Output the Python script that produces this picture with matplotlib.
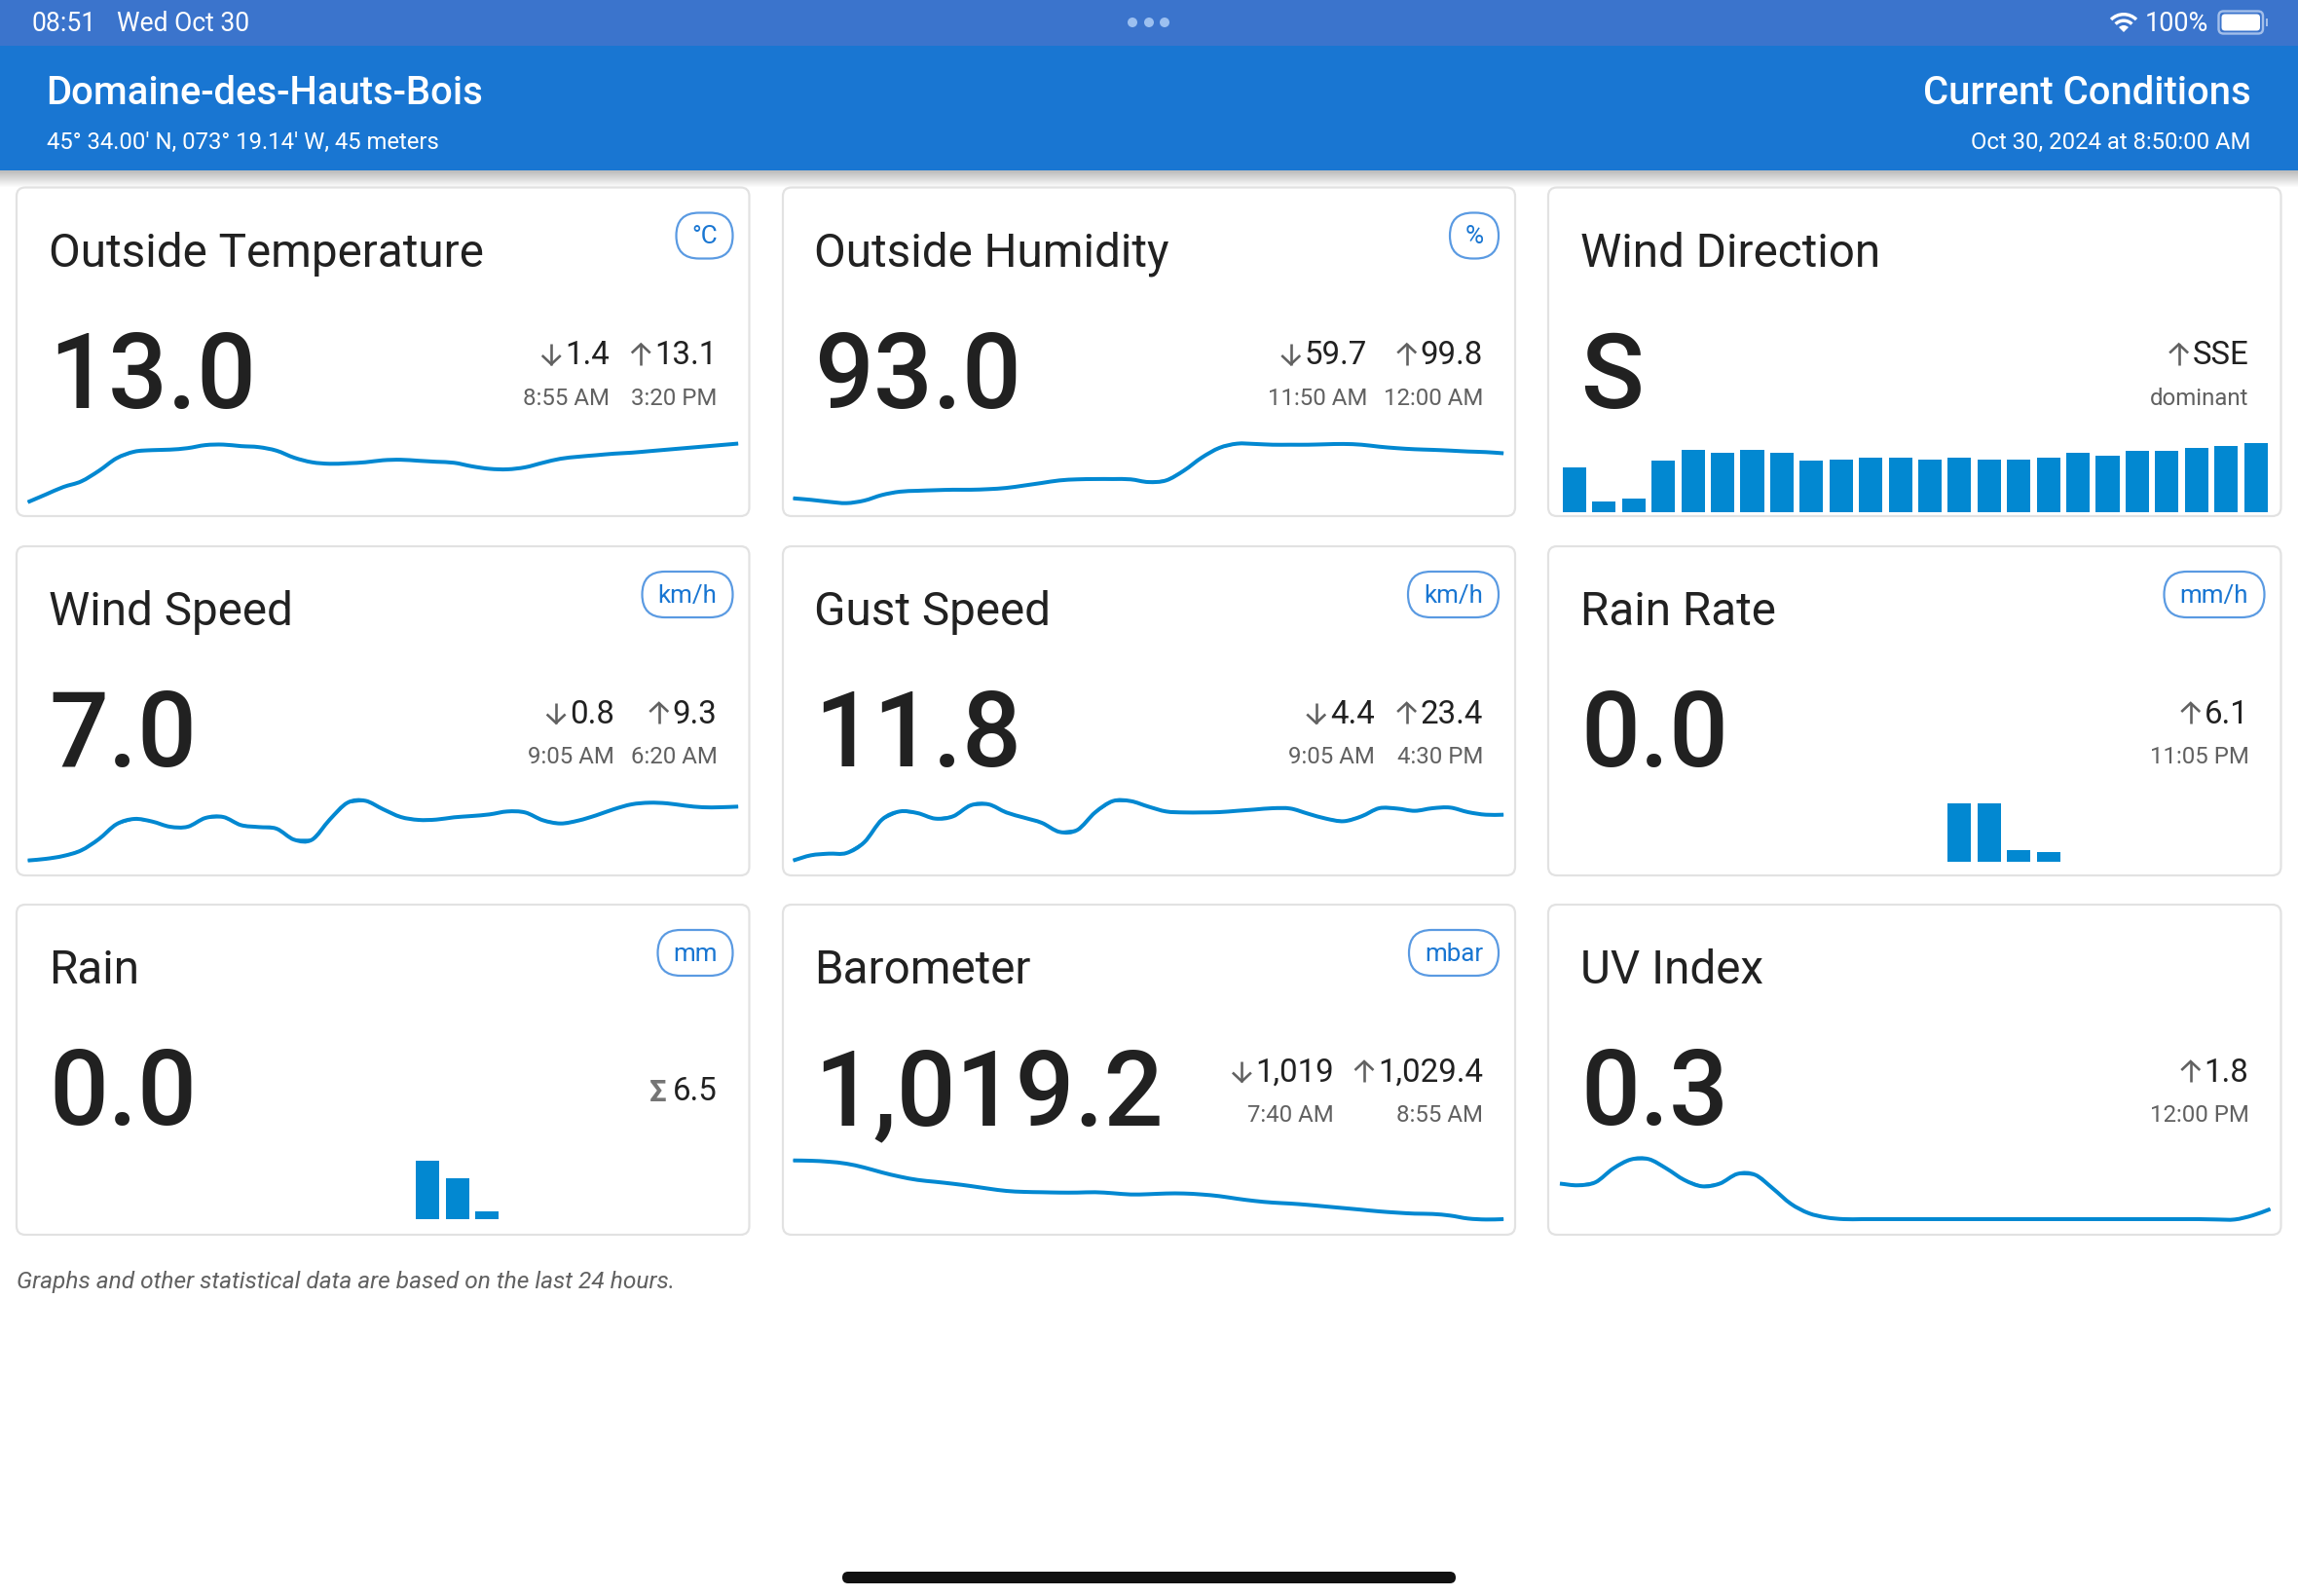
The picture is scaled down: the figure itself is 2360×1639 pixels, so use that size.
import numpy as np
import matplotlib
matplotlib.use("Agg")
import matplotlib.pyplot as plt
from matplotlib.patches import FancyBboxPatch, Rectangle, Circle, Wedge, PathPatch
from matplotlib.path import Path

plt.rcParams['font.family'] = ['Roboto', 'DejaVu Sans']

# ---------- data ----------
temperature = [1.4, 2.9, 4.4, 5.5, 7.6, 10.1, 11.4, 11.7, 11.8, 12.1, 12.7, 12.8, 12.5, 12.3, 11.6, 10.2, 9.3, 9.0, 9.1, 9.3, 9.7,
               9.8, 9.6, 9.4, 9.2, 8.5, 8.0, 7.9, 8.3, 9.2, 10.0, 10.4, 10.7, 11.0, 11.2, 11.5, 11.8, 12.1, 12.4, 12.7, 13.0]
humidity = [63.1, 62.1, 60.8, 59.9, 61.6, 65.3, 67.5, 68.1, 68.5, 68.8, 68.8, 69.2, 70.0, 71.6, 73.3, 75.0, 75.7, 75.9, 75.9, 75.7, 73.9,
            75.0, 81.5, 90.1, 96.6, 99.4, 99.2, 98.7, 98.7, 98.7, 99.0, 99.2, 98.7, 97.4, 96.4, 95.7, 95.3, 94.8, 94.2, 93.8, 93.0]
wind_speed = [2.02, 2.17, 2.44, 2.95, 4.0, 5.38, 5.86, 5.62, 5.14, 5.14, 5.95, 6.04, 5.29, 5.11, 4.96, 3.94, 3.94, 5.8, 7.36, 7.54, 6.76,
              6.04, 5.77, 5.8, 6.01, 6.13, 6.28, 6.55, 6.46, 5.74, 5.44, 5.71, 6.19, 6.76, 7.21, 7.36, 7.3, 7.09, 6.94, 6.94, 7.0]
gust_speed = [1.93, 3.05, 3.4, 3.54, 5.85, 10.75, 12.5, 12.15, 10.96, 11.45, 13.83, 14.04, 12.29, 11.17, 10.05, 8.09, 8.51, 12.29, 14.74, 14.74, 13.55,
              12.5, 12.29, 12.29, 12.36, 12.64, 12.92, 13.2, 13.13, 12.01, 10.96, 10.4, 11.45, 13.2, 13.13, 12.64, 13.2, 13.34, 12.36, 11.8, 11.8]
barometer = [1029.4, 1029.35, 1029.18, 1028.84, 1028.17, 1027.32, 1026.59, 1026.02, 1025.69, 1025.35, 1024.95, 1024.5, 1024.11, 1023.94, 1023.88, 1023.82, 1023.82, 1023.88, 1023.71, 1023.49, 1023.54,
             1023.66, 1023.66, 1023.49, 1023.2, 1022.75, 1022.36, 1022.08, 1021.91, 1021.68, 1021.4, 1021.12, 1020.84, 1020.55, 1020.33, 1020.16, 1020.1, 1019.82, 1019.31, 1019.14, 1019.2]
uv_index = [1.06, 1.01, 1.10, 1.51, 1.78, 1.79, 1.51, 1.17, 0.98, 1.06, 1.35, 1.32, 0.91, 0.46, 0.18, 0.05, 0.0, 0.0, 0.0, 0.0, 0.0,
            0.0, 0.0, 0.0, 0.0, 0.0, 0.0, 0.0, 0.0, 0.0, 0.0, 0.0, 0.0, 0.0, 0.0, 0.0, 0.0, -0.01, -0.01, 0.11, 0.30]
wind_direction = [133, 29, 40, 151, 185, 174, 185, 174, 151, 156, 162, 162, 156, 162, 156, 156, 162, 174, 168, 180, 180, 191, 197, 203]
rain_rate = [0, 0, 0, 0, 0, 0, 0, 0, 0, 0, 0, 0, 0, 3.0, 3.0, 0.6, 0.5, 0, 0, 0, 0, 0, 0, 0]
rain = [0, 0, 0, 0, 0, 0, 0, 0, 0, 0, 0, 0, 0, 3.55, 2.5, 0.45, 0, 0, 0, 0, 0, 0, 0, 0]

titles = ["Outside Temperature", "Outside Humidity", "Wind Direction",
          "Wind Speed", "Gust Speed", "Rain Rate",
          "Rain", "Barometer", "UV Index"]
current = ["13.0", "93.0", "S", "7.0", "11.8", "0.0", "0.0", "1,019.2", "0.3"]
units = ["°C", "%", None, "km/h", "km/h", "mm/h", "mm", "mbar", None]
min_stats = [("1.4", "8:55 AM"), ("59.7", "11:50 AM"), None, ("0.8", "9:05 AM"), ("4.4", "9:05 AM"),
             None, None, ("1,019", "7:40 AM"), None]
max_stats = [("13.1", "3:20 PM"), ("99.8", "12:00 AM"), ("SSE", "dominant"), ("9.3", "6:20 AM"), ("23.4", "4:30 PM"),
             ("6.1", "11:05 PM"), None, ("1,029.4", "8:55 AM"), ("1.8", "12:00 PM")]

# ---------- style / layout ----------
W, H = 2360, 1640
INK, GREY, BLUE, CHART = "#212121", "#616161", "#1976d2", "#0288d1"
col_x = [(17, 769.5), (804, 1556), (1590, 2342.5)]
col_text = [50, 836, 1623]
row_y = [(193.5, 531), (562, 900), (930, 1269)]
badge_w = [58, 50, 0, 93, 93, 103, 77, 92, 0]
min_right = [626, 1404, 0, 631, 1411.5, 0, 0, 1370, 0]

fig = plt.figure(figsize=(W / 100, H / 100), dpi=100, facecolor="white")
bg = fig.add_axes([0, 0, 1, 1], zorder=0)
bg.set_xlim(0, W); bg.set_ylim(H, 0); bg.axis("off")


def pt(px):
    return px * 0.72


def label(x, y, s, size, color=INK, ha="left", **kw):
    return bg.text(x, y, s, fontsize=pt(size), color=color, ha=ha, va="baseline", **kw)


def rounded(x0, y0, x1, y1, r, **kw):
    p = FancyBboxPatch((x0 + r, y0 + r), x1 - x0 - 2 * r, y1 - y0 - 2 * r,
                       boxstyle=f"round,pad={r},rounding_size={r}", **kw)
    bg.add_patch(p)
    return p


def arrow(cx, top, bottom, up=True):
    tip, tail = (top, bottom) if up else (bottom, top)
    d = 1 if up else -1
    bg.plot([cx, cx], [tip, tail], color=GREY, lw=pt(2.6), solid_capstyle="butt")
    bg.plot([cx - 9.5, cx, cx + 9.5], [tip + d * 9.5, tip + d * 0.5, tip + d * 9.5], color=GREY, lw=pt(2.6),
            solid_capstyle="butt", solid_joinstyle="miter")


# status bar + header
bg.add_patch(Rectangle((0, 0), W, 48, fc="#3b74cc", ec="none"))
for k in range(16):
    bg.add_patch(Rectangle((0, 176), W, 17 - k, fc="black", ec="none", alpha=0.017))
bg.add_patch(Rectangle((0, 48), W, 128, fc=BLUE, ec="none"))
label(33, 32, "08:51", 26.5, "white")
label(120, 32, "Wed Oct 30", 26.5, "white")
label(2203, 32, "100%", 27, "white")
for cx in (1163, 1180, 1196):
    bg.add_patch(Circle((cx, 24), 5, fc="#9cc0f0", ec="none"))
# wifi icon
for r in (20, 13.5):
    bg.add_patch(Wedge((2181, 34), r, 225, 315, width=3.4, fc="white", ec="none"))
bg.add_patch(Wedge((2181, 34), 7, 225, 315, fc="white", ec="none"))
# battery icon
rounded(2278.5, 12.5, 2324, 35.5, 5, fc="none", ec="#a3bfea", lw=pt(2.4))
rounded(2281.5, 15.5, 2321, 32.5, 3.5, fc="white", ec="none")
bg.add_patch(Rectangle((2327, 20), 2, 8, fc="#a3bfea", ec="none"))

label(47.5, 107, "Domaine-des-Hauts-Bois", 40, "white", fontweight="medium")
label(48, 152.5, "45° 34.00' N, 073° 19.14' W, 45 meters", 23.9, "white")
label(2311.5, 107, "Current Conditions", 40, "white", ha="right", fontweight="medium")
label(2311.5, 152.5, "Oct 30, 2024 at 8:50:00 AM", 23.9, "white", ha="right")
label(17, 1323.5, "Graphs and other statistical data are based on the last 24 hours.", 24.5, GREY, style="italic")
rounded(865, 1615, 1495, 1627, 6, fc="#111111", ec="none")

# cards and text
renderer = fig.canvas.get_renderer()
for i, title in enumerate(titles):
    x0, x1 = col_x[i % 3]
    y0, y1 = row_y[i // 3]
    tx = col_text[i % 3]
    rounded(x0, y0, x1, y1, 9, fc="white", ec="#e2e2e2", lw=pt(2.2))
    label(tx, y0 + 80.5, title, 47.6)
    label(tx, y0 + 225, current[i], 107.3, fontweight="medium")
    if units[i]:
        bx1 = x1 - 17
        bx0 = bx1 - badge_w[i]
        rounded(bx0, y0 + 26, bx1, y0 + 73, 23.4, fc="white", ec="#5a9ae2", lw=pt(2.2))
        bg.text((bx0 + bx1) / 2, y0 + 50, units[i], fontsize=pt(26), color=BLUE, ha="center", va="center")
    if max_stats[i]:
        t = label(x1 - 33, y0 + 181, max_stats[i][0], 33, ha="right")
        label(x1 - 33, y0 + 222.5, max_stats[i][1], 24, GREY, ha="right")
        arrow(t.get_window_extent(renderer).x0 - 14, y0 + 160.5, y0 + 182, up=True)
    if min_stats[i]:
        t = label(min_right[i], y0 + 181, min_stats[i][0], 33, ha="right")
        label(min_right[i], y0 + 222.5, min_stats[i][1], 24, GREY, ha="right")
        arrow(t.get_window_extent(renderer).x0 - 14, y0 + 160.5, y0 + 182, up=False)
label(col_x[0][1] - 33, row_y[2][0] + 200.5, "6.5", 33, ha="right")
label(666.5, row_y[2][0] + 201, "Σ", 31, "#757575", fontweight="bold")


def chart_axes(px0, px1, top, bottom, ylim, xlim):
    ax = fig.add_axes([px0 / W, 1 - bottom / H, (px1 - px0) / W, (bottom - top) / H], zorder=2)
    ax.patch.set_alpha(0)
    ax.axis("off")
    ax.set_xlim(*xlim)
    ax.set_ylim(*ylim)
    return ax


def line_chart(values, px0, top, ylim):
    ax = chart_axes(px0, px0 + 729.5, top, top + 90, ylim, (0, len(values) - 1))
    x = np.arange(len(values), dtype=float)
    y = np.asarray(values, dtype=float)
    ax.plot(x, y, color=CHART, lw=pt(2.0), solid_capstyle="butt", solid_joinstyle="round", clip_on=False)
    # the measured points joined with a spline stroke, as the dashboard draws them
    slope = np.gradient(y, x)
    verts, codes = [(x[0], y[0])], [Path.MOVETO]
    for k in range(len(x) - 1):
        verts += [(x[k] + 1 / 3, y[k] + slope[k] / 3), (x[k + 1] - 1 / 3, y[k + 1] - slope[k + 1] / 3), (x[k + 1], y[k + 1])]
        codes += [Path.CURVE4] * 3
    ax.add_patch(PathPatch(Path(verts, codes), fc="none", ec=CHART, lw=pt(4.0), capstyle="butt",
                           joinstyle="round", clip_on=False))


def bar_chart(values, card_x, top, bottom, ymax):
    ax = chart_axes(card_x + 11.8, card_x + 741.8, top, bottom, (0, ymax), (-0.5, 23.5))
    ax.bar(np.arange(len(values)), values, width=0.79, color=CHART, linewidth=0)


line_chart(temperature, 28.6, 441, (-1.365, 15.996))
line_chart(humidity, 814.6, 441, (51.29, 109.5))
bar_chart(wind_direction, 1590, 440, 526.5, 250.7)
line_chart(wind_speed, 28.6, 806, (1.0, 9.1))
line_chart(gust_speed, 814.6, 806, (-0.45, 18.45))
bar_chart(rain_rate, 1590, 806, 885.5, 4.0)
bar_chart(rain, 17, 1176, 1253, 4.556)
line_chart(barometer, 814.6, 1176, (1017.0, 1032.23))
line_chart(uv_index, 1602, 1176, (-0.3775, 2.236))

fig.savefig("out.png", dpi=100, facecolor="white")
